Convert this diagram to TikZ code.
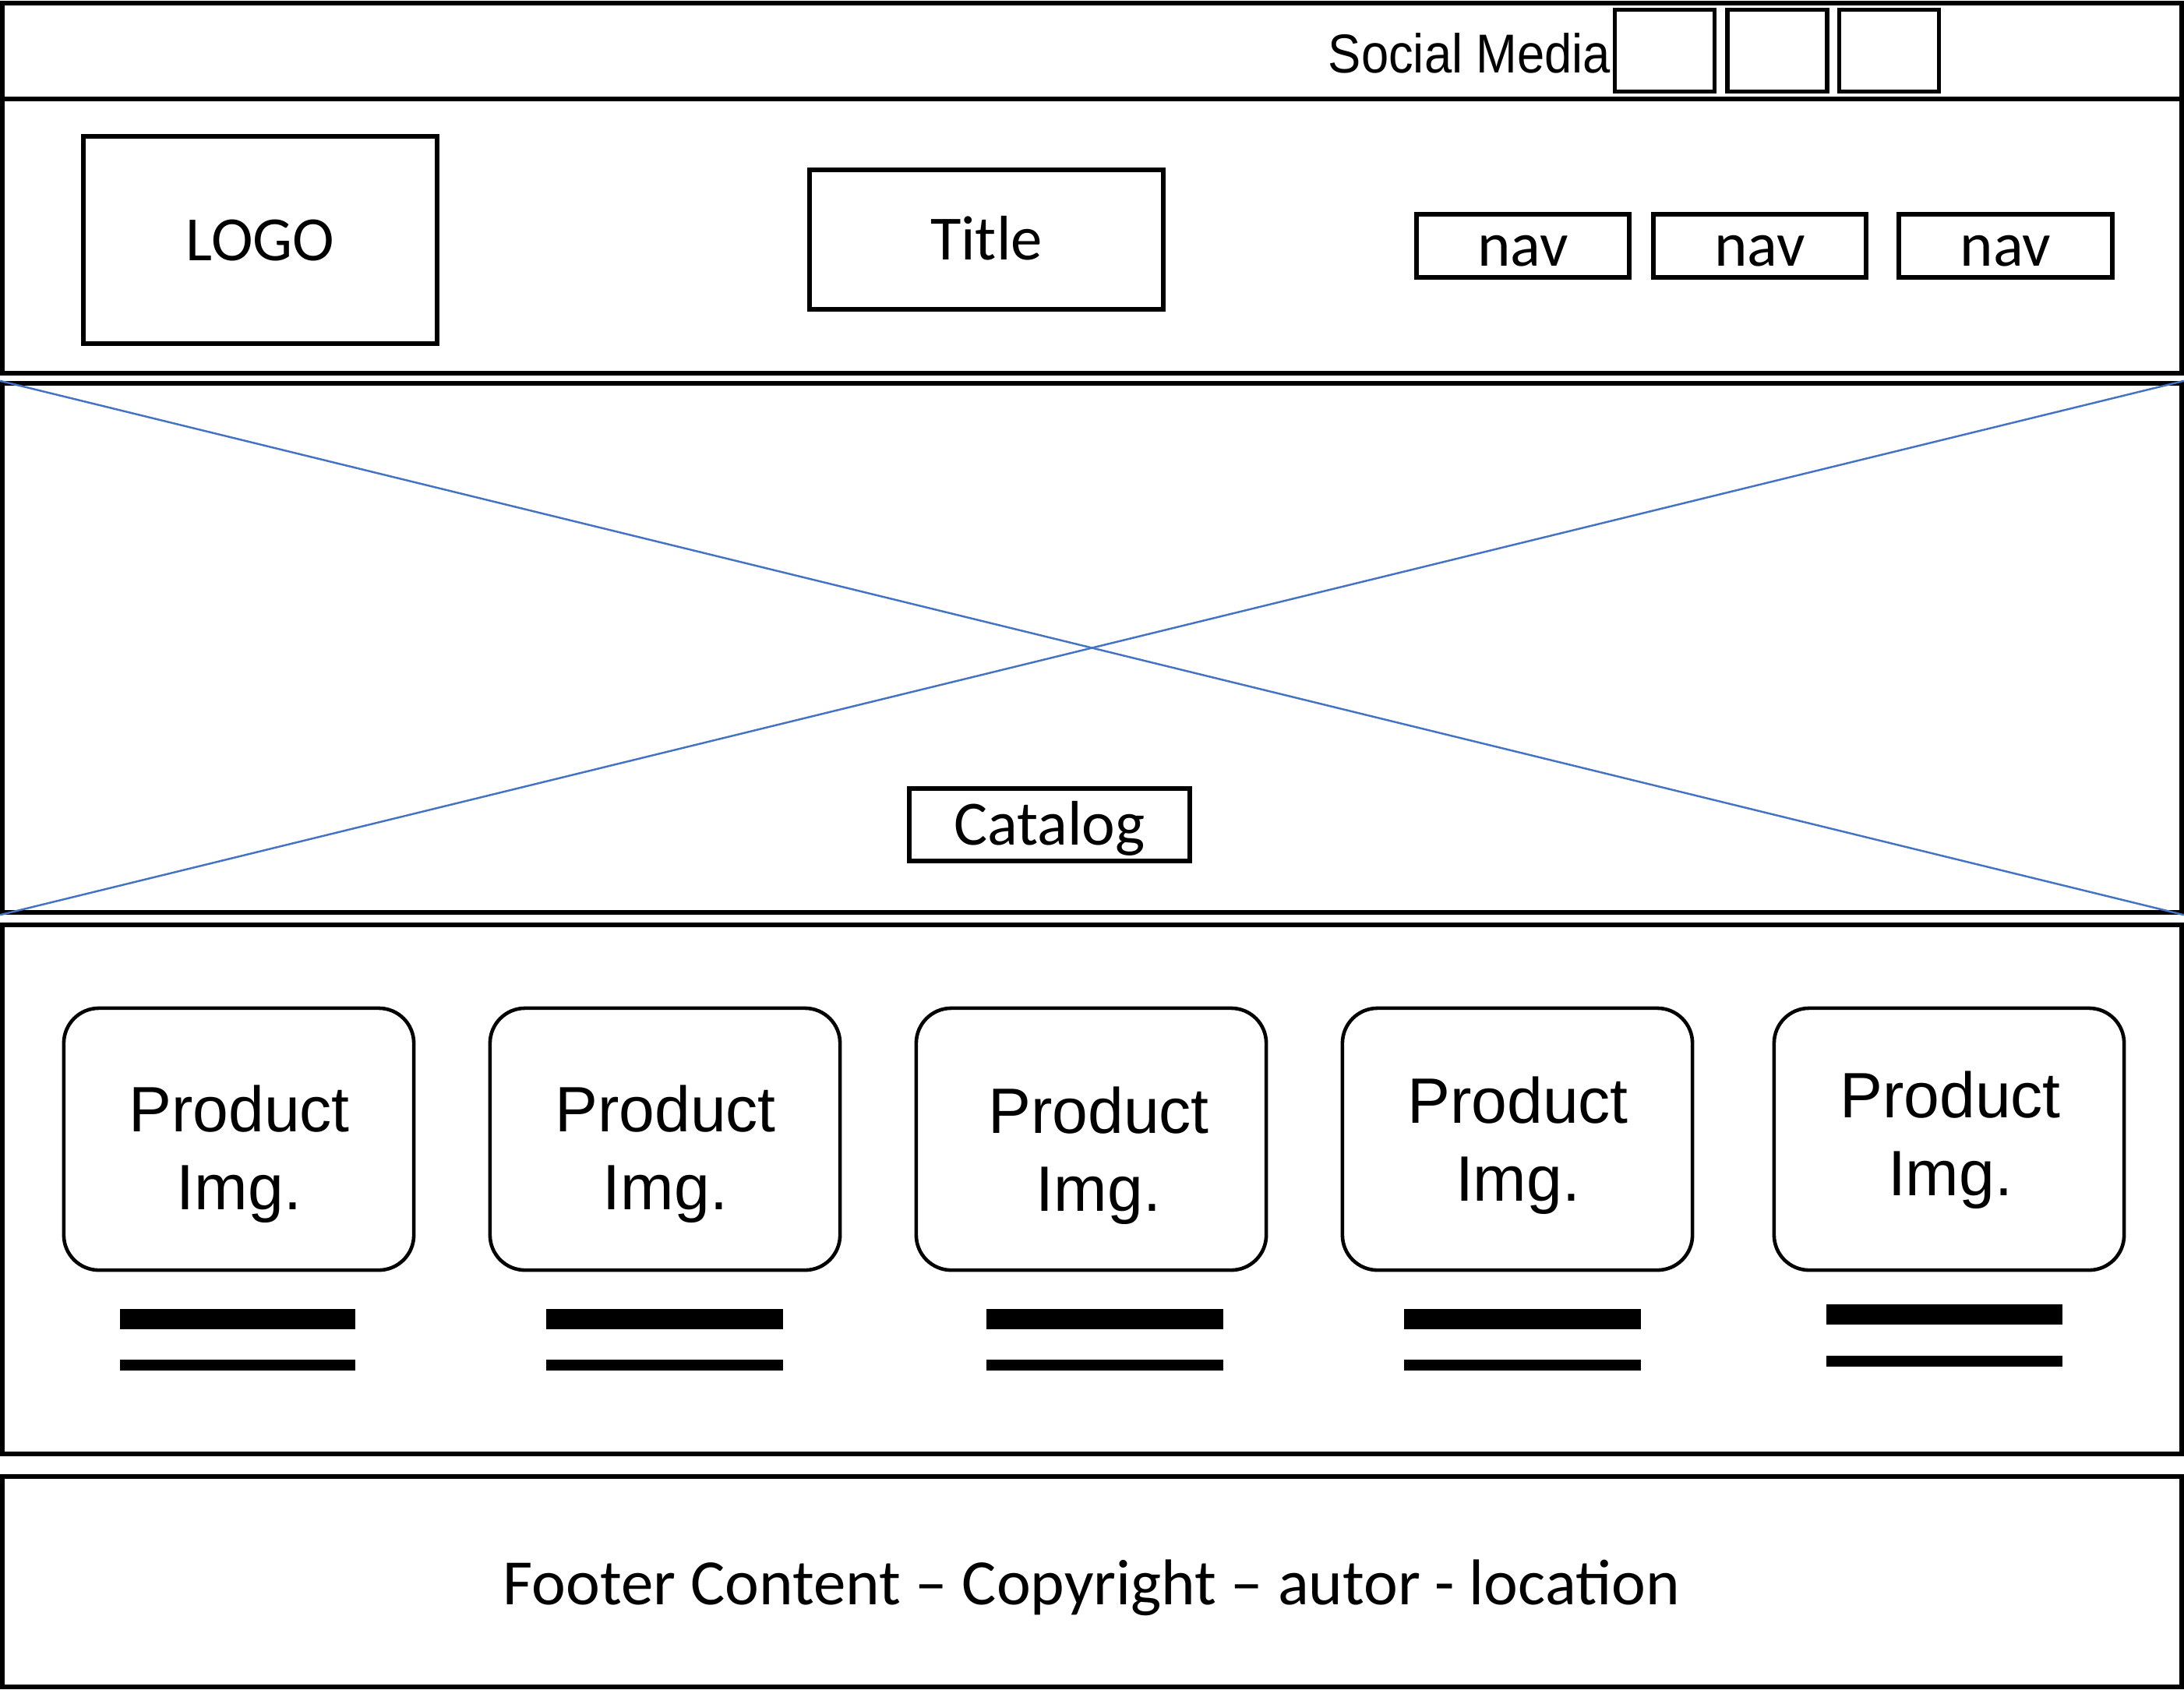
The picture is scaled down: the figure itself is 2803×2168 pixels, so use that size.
\documentclass[tikz,border=0pt]{standalone}
\usepackage{fontspec}
\setmainfont{Carlito}
\newfontfamily\arialfont{Liberation Sans}
\newfontfamily\socialfont[FakeStretch=0.9]{Liberation Sans}
\definecolor{crossblue}{HTML}{4472C4}

\begin{document}
\begin{tikzpicture}[x=0.01cm, y=-0.01cm,
        section/.style={draw, line width=1.7pt, minimum width=27.95cm, inner sep=0pt},
        box/.style={draw, line width=1.7pt, inner sep=0pt, text height=15pt, text depth=0pt, font=\fontsize{23}{28}\selectfont},
        icon/.style={draw, line width=1.5pt, minimum width=1.28cm, minimum height=1.055cm},
        card/.style={draw, line width=1.3pt, rounded corners=0.45cm, minimum width=4.49cm, minimum height=3.36cm},
        cardtext/.style={align=center, font=\arialfont\fontsize{23.4}{28.4}\selectfont},
        thickbar/.style={line width=7.5pt},
        thinbar/.style={line width=4pt}]
        \useasboundingbox (0,0) rectangle (2803,2168);

        % page sections
        \node[section, minimum height=1.23cm] (topbar) at (1401.5, 65.5) {};
        \node[section, minimum height=3.52cm] (header) at (1401.5, 303) {};
        \node[section, minimum height=6.79cm] (hero) at (1401.5, 831.5) {};
        \node[section, minimum height=6.79cm] (products) at (1401.5, 1526.5) {};
        \node[section, minimum height=2.70cm] (footer) at (1401.5, 2030) {};

        % top bar
        \node[anchor=base east, inner sep=0pt, font=\socialfont\fontsize{20}{24}\selectfont] (social) at (2068, 93) {Social Media};
        \node[icon] (icon_1) at (2136.5, 65) {};
        \node[icon] (icon_2) at (2281, 65) {};
        \node[icon] (icon_3) at (2424.5, 65) {};

        % header
        \node[box, minimum width=4.54cm, minimum height=2.66cm] (logo) at (334, 308) {LOGO};
        \node[box, minimum width=4.54cm, minimum height=1.79cm] (title) at (1266, 307.5) {Title};
        \node[box, minimum width=2.73cm, minimum height=0.81cm] (nav_1) at (1954.5, 315.5) {nav};
        \node[box, minimum width=2.73cm, minimum height=0.81cm] (nav_2) at (2258.5, 315.5) {nav};
        \node[box, minimum width=2.73cm, minimum height=0.81cm] (nav_3) at (2574, 315.5) {nav};

        % hero image
        \draw[crossblue, line width=0.7pt] (hero.north west) -- (hero.south east);
        \draw[crossblue, line width=0.7pt] (hero.south west) -- (hero.north east);
        \node[box, fill=white, minimum width=3.6cm, minimum height=0.93cm] (catalog) at (1347, 1058.5) {Catalog};

        % product cards
        \node[card] (card_1) at (306.5, 1462) {};
        \node[card] (card_2) at (853.5, 1462) {};
        \node[card] (card_3) at (1400.5, 1462) {};
        \node[card] (card_4) at (1947.5, 1462) {};
        \node[card] (card_5) at (2501.5, 1462) {};

        \node[cardtext] (img_1) at (307, 1481) {Product\\Img.};
        \node[cardtext] (img_2) at (854, 1481) {Product\\Img.};
        \node[cardtext] (img_3) at (1410, 1483) {Product\\Img.};
        \node[cardtext] (img_4) at (1948, 1470) {Product\\Img.};
        \node[cardtext] (img_5) at (2503, 1463) {Product\\Img.};

        %text bars
        \draw[thickbar] (154, 1693) -- (456, 1693);
        \draw[thinbar] (154, 1752) -- (456, 1752);
        \draw[thickbar] (701, 1693) -- (1005, 1693);
        \draw[thinbar] (701, 1752) -- (1005, 1752);
        \draw[thickbar] (1266, 1693) -- (1570, 1693);
        \draw[thinbar] (1266, 1752) -- (1570, 1752);
        \draw[thickbar] (1802, 1693) -- (2106, 1693);
        \draw[thinbar] (1802, 1752) -- (2106, 1752);
        \draw[thickbar] (2344, 1687) -- (2647, 1687);
        \draw[thinbar] (2344, 1747) -- (2647, 1747);

        % footer
        \node[anchor=base, inner sep=0pt, font=\fontsize{23.6}{28}\selectfont] (footnote) at (1401, 2059) {Footer Content -- Copyright -- autor - location};
    \end{tikzpicture}
\end{document}
